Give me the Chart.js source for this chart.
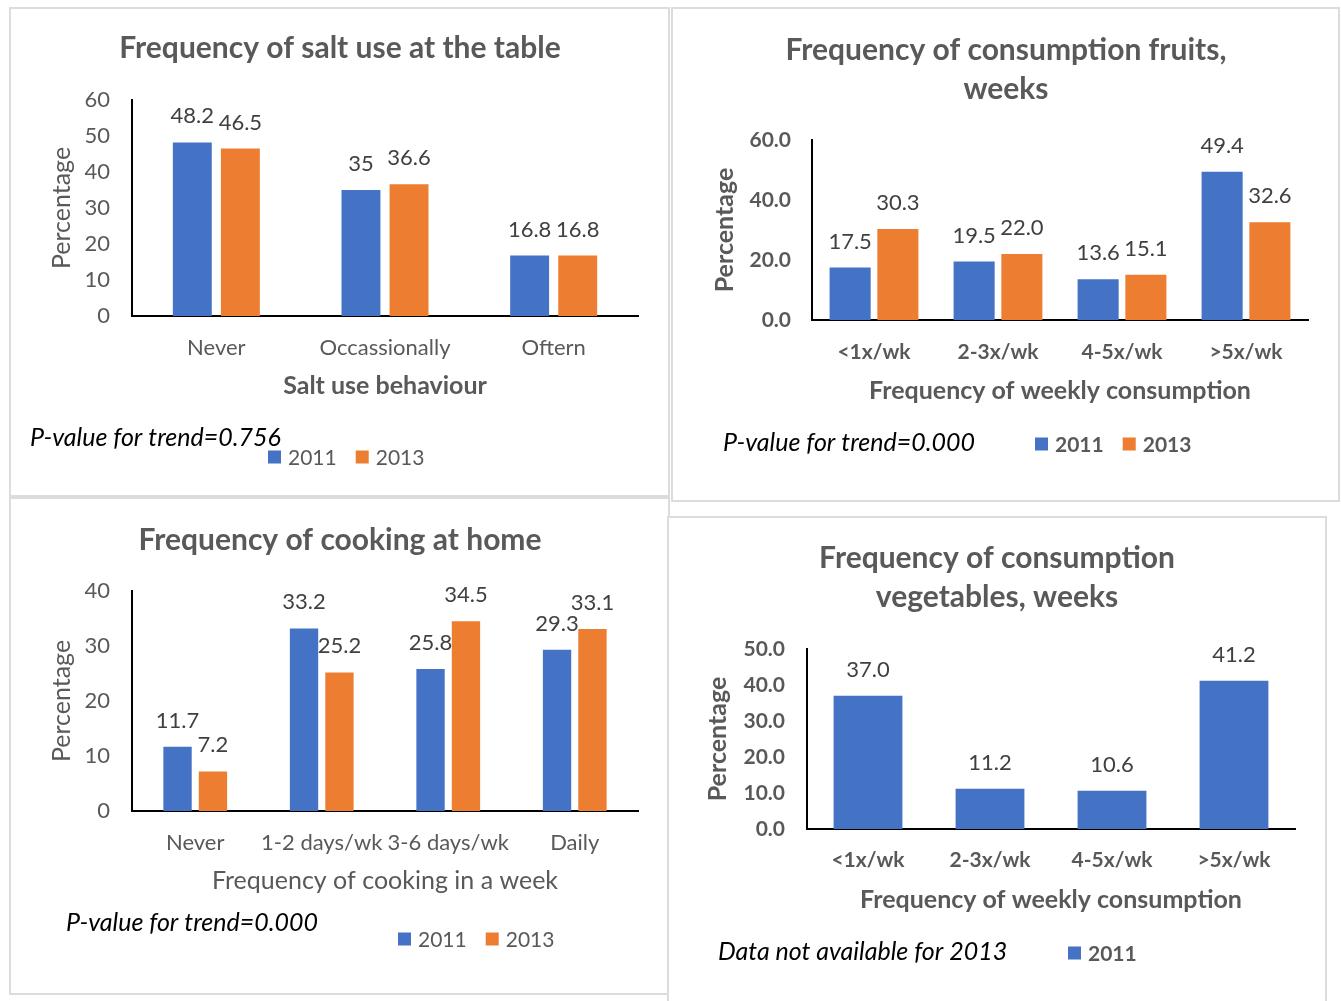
<!DOCTYPE html>
<html>
<head>
<meta charset="utf-8">
<title>Diet and salt use, 2011 vs 2013</title>
<script src="https://cdn.jsdelivr.net/npm/chart.js@4.4.1/dist/chart.umd.min.js"></script>
<style>
  html, body { margin: 0; padding: 0; background: #fff; overflow: hidden; }
  body { width: 1341px; height: 1001px; position: relative; }
  .panel { position: absolute; outline: 2px solid #dcdcdc; background: #fff; }
</style>
</head>
<body>
<div class="panel" id="p1"><canvas id="saltChart"></canvas></div>
<div class="panel" id="p2"><canvas id="fruitChart"></canvas></div>
<div class="panel" id="p3"><canvas id="cookChart"></canvas></div>
<div class="panel" id="p4"><canvas id="vegChart"></canvas></div>

<script>
// Survey data (percentages)
const saltCategories = ['Never', 'Occassionally', 'Oftern'];
const salt2011 = [48.2, 35, 16.8];
const salt2013 = [46.5, 36.6, 16.8];

const fruitCategories = ['<1x/wk', '2-3x/wk', '4-5x/wk', '>5x/wk'];
const fruit2011 = [17.5, 19.5, 13.6, 49.4];
const fruit2013 = [30.3, 22.0, 15.1, 32.6];

const cookCategories = ['Never', '1-2 days/wk', '3-6 days/wk', 'Daily'];
const cook2011 = [11.7, 33.2, 25.8, 29.3];
const cook2013 = [7.2, 25.2, 34.5, 33.1];

const vegCategories = ['<1x/wk', '2-3x/wk', '4-5x/wk', '>5x/wk'];
const veg2011 = [37.0, 11.2, 10.6, 41.2];

const BLUE = '#4472C4';
const ORANGE = '#ED7D31';
const GREY = '#595959';
const FONT = 'Lato';

// Draws the panel title, bar value labels, the note and a small legend
const panelText = {
    id: 'panelText',
    afterDatasetsDraw(chart, args, o) {
        const ctx = chart.ctx;
        ctx.save();

        ctx.fillStyle = GREY;
        ctx.textAlign = 'center';
        ctx.textBaseline = 'middle';
        ctx.font = 'bold ' + o.titleSize + 'px ' + FONT;
        o.title.forEach(function (line, i) {
            ctx.fillText(line, o.titleX, o.titleY + i * o.titleLead);
        });

        // value labels above bars
        ctx.font = o.labelSize + 'px ' + FONT;
        ctx.fillStyle = '#404040';
        ctx.textBaseline = 'alphabetic';
        chart.data.datasets.forEach(function (ds, di) {
            const meta = chart.getDatasetMeta(di);
            meta.data.forEach(function (bar, i) {
                const v = ds.data[i];
                const txt = o.decimals == null ? String(v) : v.toFixed(o.decimals);
                ctx.fillText(txt, bar.x, bar.y - 19);
            });
        });

        // note
        ctx.font = 'italic ' + o.noteSize + 'px ' + FONT;
        ctx.fillStyle = '#000';
        ctx.textAlign = 'left';
        ctx.textBaseline = 'middle';
        ctx.fillText(o.note, o.noteX, o.noteY);

        // legend
        ctx.font = (o.legendBold ? 'bold ' : '') + o.legendSize + 'px ' + FONT;
        let x = o.legendX;
        chart.data.datasets.forEach(function (ds) {
            ctx.fillStyle = ds.backgroundColor;
            ctx.fillRect(x, o.legendY - 6.5, 13, 13);
            ctx.fillStyle = GREY;
            ctx.fillText(ds.label, x + 20, o.legendY + 1);
            x += 20 + ctx.measureText(ds.label).width + 19;
        });
        ctx.restore();
    }
};

function makeChart(id, p) {
    const wrap = document.getElementById(id).parentNode;
    wrap.style.left = p.box.x + 'px';
    wrap.style.top = p.box.y + 'px';
    wrap.style.width = p.box.w + 'px';
    wrap.style.height = p.box.h + 'px';

    const tickSize = p.bold ? 21 : 22;
    const lh = tickSize * 1.2;
    const axTitleSize = 25;
    const atlh = axTitleSize * 1.2;
    const xHeight = p.xTitleDy + atlh / 2;

    const datasets = p.series.map(function (s) {
        return {
            label: s.label,
            data: s.data,
            backgroundColor: s.color,
            categoryPercentage: p.catPct,
            barPercentage: p.barPct
        };
    });

    return new Chart(document.getElementById(id), {
        type: 'bar',
        data: { labels: p.labels, datasets: datasets },
        plugins: [panelText],
        options: {
            responsive: true,
            maintainAspectRatio: false,
            animation: false,
            events: [],
            layout: {
                padding: {
                    left: 0,
                    top: p.area.t,
                    right: p.box.w - p.area.r,
                    bottom: p.box.h - p.area.b - xHeight
                }
            },
            scales: {
                x: {
                    grid: { display: false, drawTicks: false },
                    border: { display: true, color: '#000', width: 2 },
                    ticks: {
                        color: GREY,
                        autoSkip: false,
                        maxRotation: 0,
                        padding: p.catDy - lh / 2,
                        font: { family: FONT, size: tickSize, weight: p.bold ? 'bold' : 'normal' }
                    },
                    title: {
                        display: true,
                        text: p.xTitle,
                        color: GREY,
                        padding: 0,
                        font: { family: FONT, size: axTitleSize, weight: p.xTitleBold ? 'bold' : 'normal' }
                    },
                    afterFit: function (s) { s.height = xHeight; }
                },
                y: {
                    min: 0,
                    max: p.max,
                    grid: { display: false, drawTicks: false },
                    border: { display: true, color: '#000', width: 2 },
                    ticks: {
                        stepSize: p.step,
                        color: GREY,
                        padding: p.tickPad,
                        font: { family: FONT, size: tickSize, weight: p.bold ? 'bold' : 'normal' },
                        callback: function (v) { return p.decimals == null ? v : v.toFixed(p.decimals); }
                    },
                    title: {
                        display: true,
                        text: 'Percentage',
                        color: GREY,
                        padding: { top: p.yTitleX - atlh / 2, bottom: 0 },
                        font: { family: FONT, size: axTitleSize, weight: p.yTitleBold ? 'bold' : 'normal' }
                    },
                    afterFit: function (s) { s.width = p.area.l; }
                }
            },
            plugins: {
                legend: { display: false },
                tooltip: { enabled: false },
                panelText: {
                    title: p.title,
                    titleX: p.titleX,
                    titleY: p.titleY,
                    titleLead: 39,
                    titleSize: 30,
                    labelSize: 22,
                    decimals: p.decimals,
                    note: p.note,
                    noteX: p.noteX,
                    noteY: p.noteY,
                    noteSize: 25,
                    legendX: p.legendX,
                    legendY: p.legendY,
                    legendSize: 21,
                    legendBold: p.bold
                }
            }
        }
    });
}

document.addEventListener('DOMContentLoaded', function () {
    makeChart('saltChart', {
        box: { x: 11, y: 9, w: 657, h: 486 },
        area: { l: 121, r: 627, t: 91, b: 307 },
        labels: saltCategories,
        series: [
            { label: '2011', data: salt2011, color: BLUE },
            { label: '2013', data: salt2013, color: ORANGE }
        ],
        max: 60, step: 10, decimals: null,
        catPct: 0.57, barPct: 0.81,
        bold: false, xTitleBold: true, yTitleBold: false,
        yTitleX: 51, tickPad: 22, catDy: 32, xTitleDy: 70,
        xTitle: 'Salt use behaviour',
        title: ['Frequency of salt use at the table'], titleX: 329, titleY: 39,
        note: 'P-value for trend=0.756', noteX: 19, noteY: 429,
        legendX: 257, legendY: 448
    });

    makeChart('fruitChart', {
        box: { x: 673, y: 9, w: 665, h: 491 },
        area: { l: 139, r: 635, t: 131, b: 311 },
        labels: fruitCategories,
        series: [
            { label: '2011', data: fruit2011, color: BLUE },
            { label: '2013', data: fruit2013, color: ORANGE }
        ],
        max: 60, step: 20, decimals: 1,
        catPct: 0.77, barPct: 0.86,
        bold: true, xTitleBold: true, yTitleBold: true,
        yTitleX: 52, tickPad: 21, catDy: 32, xTitleDy: 71,
        xTitle: 'Frequency of weekly consumption',
        title: ['Frequency of consumption fruits,', 'weeks'], titleX: 333, titleY: 41,
        note: 'P-value for trend=0.000', noteX: 50, noteY: 434,
        legendX: 362, legendY: 435
    });

    makeChart('cookChart', {
        box: { x: 11, y: 499, w: 657, h: 494 },
        area: { l: 121, r: 627, t: 92, b: 312 },
        labels: cookCategories,
        series: [
            { label: '2011', data: cook2011, color: BLUE },
            { label: '2013', data: cook2013, color: ORANGE }
        ],
        max: 40, step: 10, decimals: null,
        catPct: 0.56, barPct: 0.8,
        bold: false, xTitleBold: false, yTitleBold: false,
        yTitleX: 51, tickPad: 22, catDy: 32, xTitleDy: 70,
        xTitle: 'Frequency of cooking in a week',
        title: ['Frequency of cooking at home'], titleX: 329, titleY: 41,
        note: 'P-value for trend=0.000', noteX: 55, noteY: 424,
        legendX: 387, legendY: 440
    });

    makeChart('vegChart', {
        box: { x: 669, y: 518, w: 656, h: 495 },
        area: { l: 138, r: 626, t: 131, b: 311 },
        labels: vegCategories,
        series: [
            { label: '2011', data: veg2011, color: BLUE }
        ],
        max: 50, step: 10, decimals: 1,
        catPct: 0.6, barPct: 0.94,
        bold: true, xTitleBold: true, yTitleBold: true,
        yTitleX: 49, tickPad: 22, catDy: 31, xTitleDy: 71,
        xTitle: 'Frequency of weekly consumption',
        title: ['Frequency of consumption', 'vegetables, weeks'], titleX: 328, titleY: 40,
        note: 'Data not available for 2013', noteX: 49, noteY: 434,
        legendX: 399, legendY: 435
    });
});
</script>
</body>
</html>
